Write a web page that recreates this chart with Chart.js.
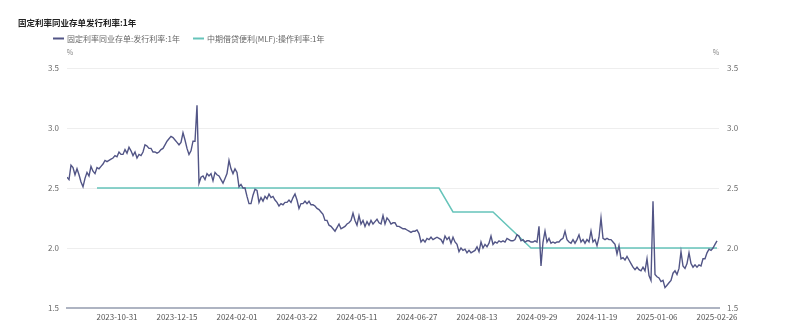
<!DOCTYPE html>
<html>
<head>
<meta charset="utf-8">
<script src="https://cdn.jsdelivr.net/npm/chart.js@4.4.1/dist/chart.umd.min.js"></script>
<style>
    body { margin: 0; background: #fff; }
    #wrap { position: relative; width: 800px; height: 332px; }
</style>
</head>
<body>
<div id="wrap"><canvas id="rateChart"></canvas></div>
<script>
var titleText = "固定利率同业存单发行利率:1年";
var seriesNames = ["固定利率同业存单:发行利率:1年", "中期借贷便利(MLF):操作利率:1年"];

// x tick labels (trading-day index, one label every 30 points)
var tickLabels = ["2023-10-31", "2023-12-15", "2024-02-01", "2024-03-22", "2024-05-11",
    "2024-06-27", "2024-08-13", "2024-09-29", "2024-11-19", "2025-01-06", "2025-02-26"];
var tickIdx = [25, 55, 85, 115, 145, 175, 205, 235, 265, 295, 325];

// 固定利率同业存单 1年, daily
var cdRate = [
    2.59,2.57,2.69,2.67,2.61,2.66,2.61,2.55,2.51,2.58,
    2.63,2.60,2.68,2.64,2.62,2.67,2.66,2.68,2.70,2.73,
    2.72,2.73,2.74,2.75,2.77,2.76,2.80,2.78,2.78,2.82,
    2.79,2.84,2.81,2.77,2.80,2.75,2.78,2.77,2.80,2.86,
    2.85,2.83,2.83,2.80,2.80,2.79,2.80,2.82,2.83,2.86,
    2.89,2.91,2.93,2.92,2.90,2.88,2.86,2.88,2.96,2.90,
    2.83,2.78,2.81,2.89,2.89,3.19,2.54,2.59,2.60,2.57,
    2.62,2.60,2.62,2.56,2.63,2.61,2.60,2.57,2.54,2.58,
    2.62,2.73,2.66,2.62,2.66,2.63,2.51,2.53,2.50,2.50,
    2.43,2.37,2.37,2.44,2.49,2.48,2.38,2.42,2.39,2.43,
    2.41,2.45,2.42,2.43,2.40,2.38,2.35,2.37,2.36,2.38,
    2.38,2.40,2.38,2.42,2.45,2.40,2.33,2.37,2.37,2.39,
    2.37,2.39,2.36,2.36,2.35,2.33,2.32,2.30,2.28,2.23,
    2.23,2.19,2.18,2.16,2.14,2.17,2.20,2.16,2.17,2.18,
    2.20,2.21,2.23,2.29,2.23,2.19,2.27,2.20,2.23,2.18,
    2.22,2.19,2.23,2.20,2.22,2.24,2.21,2.20,2.27,2.20,
    2.25,2.23,2.20,2.21,2.21,2.18,2.18,2.17,2.16,2.16,
    2.15,2.14,2.13,2.14,2.14,2.15,2.12,2.05,2.07,2.05,
    2.08,2.07,2.09,2.07,2.08,2.09,2.08,2.07,2.04,2.10,
    2.07,2.09,2.04,2.09,2.05,2.03,1.97,2.00,1.98,1.99,
    1.96,1.98,1.96,1.97,1.98,2.01,1.97,2.05,2.00,2.03,
    2.01,2.04,2.10,2.03,2.05,2.04,2.06,2.05,2.06,2.05,
    2.08,2.07,2.06,2.06,2.07,2.11,2.10,2.06,2.07,2.05,
    2.06,2.06,2.05,2.05,2.06,2.05,2.18,1.85,2.05,2.14,
    2.05,2.08,2.04,2.05,2.04,2.05,2.05,2.07,2.08,2.14,
    2.07,2.05,2.04,2.07,2.04,2.07,2.11,2.05,2.07,2.04,
    2.07,2.05,2.14,2.05,2.07,2.02,2.09,2.25,2.08,2.07,
    2.08,2.07,2.07,2.05,2.03,1.95,2.02,1.91,1.92,1.90,
    1.93,1.90,1.87,1.84,1.82,1.84,1.82,1.81,1.84,1.81,
    1.91,1.77,1.73,2.39,1.78,1.76,1.75,1.72,1.73,1.67,
    1.69,1.71,1.73,1.79,1.81,1.78,1.83,1.97,1.85,1.83,
    1.87,1.96,1.87,1.84,1.86,1.84,1.86,1.85,1.91,1.91,
    1.96,1.99,1.98,2.00,2.03,2.06
];

// MLF 1年 operation rate (published points only)
var mlfIdx = [15, 186, 193, 213, 232, 325];
var mlfRate = [2.5, 2.5, 2.3, 2.3, 2.0, 2.0];

var yTicks = [1.5, 2.0, 2.5, 3.0, 3.5];

var navy = "#525586";
var teal = "#66c4ba";
var textFont = "'Noto Sans CJK SC', 'Noto Sans', sans-serif";

function toPoints(xs, ys) {
    var pts = [];
    for (var i = 0; i < ys.length; i++) {
        pts.push({ x: xs ? xs[i] : i, y: ys[i] });
    }
    return pts;
}

// title, legend and unit labels
var headerText = {
    id: "headerText",
    afterDraw: function (chart) {
        var ctx = chart.ctx;
        var area = chart.chartArea;
        ctx.save();
        ctx.textBaseline = "middle";
        ctx.textAlign = "left";

        ctx.fillStyle = "#222";
        ctx.font = "bold 8.5px " + textFont;
        ctx.fillText(titleText, 18, 23);

        var items = [[53, navy], [193, teal]];
        ctx.font = "8px " + textFont;
        for (var i = 0; i < items.length; i++) {
            var x = items[i][0];
            ctx.strokeStyle = items[i][1];
            ctx.lineWidth = 2;
            ctx.beginPath();
            ctx.moveTo(x, 38.5);
            ctx.lineTo(x + 11, 38.5);
            ctx.stroke();
            ctx.fillStyle = "#666";
            ctx.fillText(seriesNames[i], x + 14, 38.5);
        }

        ctx.fillStyle = "#888";
        ctx.font = "7px " + textFont;
        ctx.textAlign = "center";
        ctx.fillText("%", area.left + 3, 52);
        ctx.fillText("%", area.right - 3, 52);
        ctx.restore();
    },
};

function yAxis(position, width) {
    return {
        type: "linear",
        position: position,
        min: 1.5,
        max: 3.5,
        afterBuildTicks: function (scale) {
            scale.ticks = yTicks.map(function (v) { return { value: v }; });
        },
        afterFit: function (scale) {
            scale.width = width;
        },
        border: { display: false },
        grid: {
            display: position === "left",
            color: "#eeeeee",
            lineWidth: 1,
            drawTicks: false,
        },
        ticks: {
            padding: 8,
            color: "#6a6a6a",
            font: { size: 8, family: textFont },
            callback: function (v) { return v.toFixed(1); },
        },
    };
}

function drawChart() {
    var ctx = document.getElementById("rateChart").getContext("2d");

    var myChart = new Chart(ctx, {
        type: "line",
        data: {
            datasets: [
                {
                    label: seriesNames[0],
                    data: toPoints(null, cdRate),
                    borderColor: navy,
                    borderWidth: 1.4,
                    pointRadius: 0,
                    tension: 0,
                    yAxisID: "y",
                },
                {
                    label: seriesNames[1],
                    data: toPoints(mlfIdx, mlfRate),
                    borderColor: teal,
                    borderWidth: 1.5,
                    pointRadius: 0,
                    tension: 0,
                    yAxisID: "y",
                },
            ],
        },
        options: {
            responsive: true,
            maintainAspectRatio: false,
            animation: false,
            layout: { padding: { top: 68, left: 0, right: 0, bottom: 0 } },
            plugins: {
                legend: { display: false },
                title: { display: false },
                tooltip: { enabled: false },
            },
            scales: {
                x: {
                    type: "linear",
                    min: 0,
                    max: 326,
                    afterBuildTicks: function (scale) {
                        scale.ticks = tickIdx.map(function (v) { return { value: v }; });
                    },
                    afterFit: function (scale) {
                        scale.height = 24;
                    },
                    grid: { display: false, drawTicks: false },
                    border: { display: true, color: "#aeb4c2", width: 2 },
                    ticks: {
                        padding: 4,
                        maxRotation: 0,
                        autoSkip: false,
                        color: "#555",
                        font: { size: 8, family: textFont },
                        callback: function (v) {
                            var k = tickIdx.indexOf(v);
                            return k >= 0 ? tickLabels[k] : "";
                        },
                    },
                },
                y: yAxis("left", 67),
                y2: yAxis("right", 81),
            },
        },
        plugins: [headerText],
    });
}

drawChart();
</script>
</body>
</html>
